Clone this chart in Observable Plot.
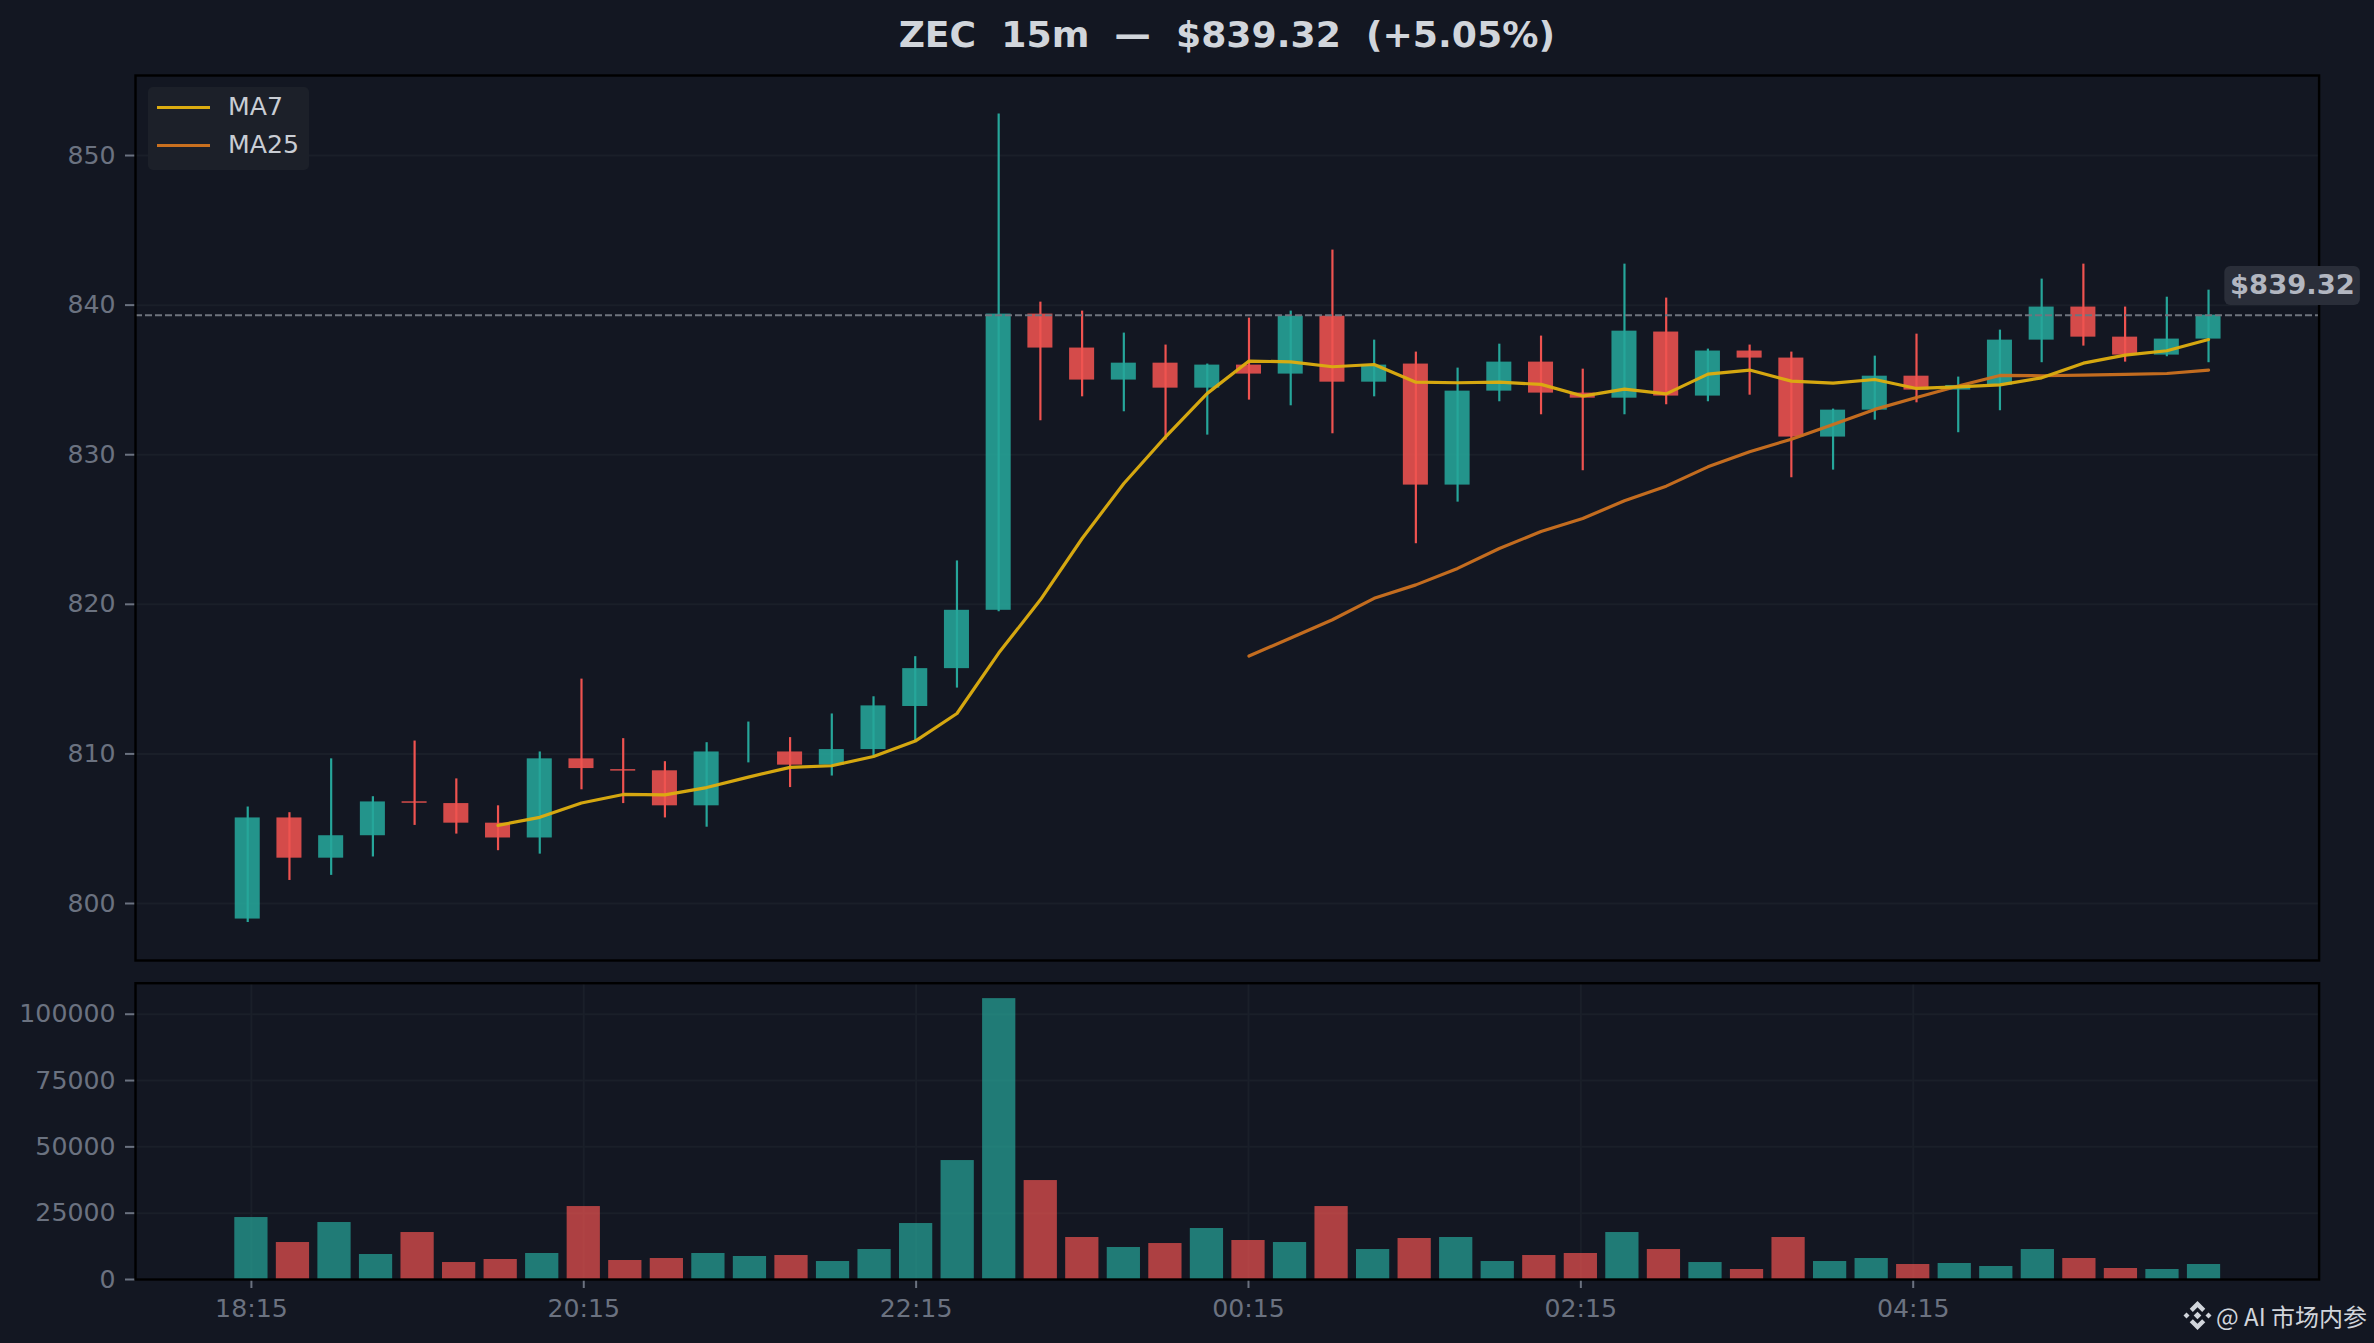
<!DOCTYPE html>
<html>
<head>
<meta charset="utf-8">
<script src="https://cdn.jsdelivr.net/npm/d3@7"></script>
<script src="https://cdn.jsdelivr.net/npm/@observablehq/plot@0.6"></script>
<style>
html,body{margin:0;padding:0;background:#131722;width:2374px;height:1343px;overflow:hidden;font-family:"DejaVu Sans",sans-serif}
#title{position:absolute;left:135px;width:2183.6px;top:14px;text-align:center;font-weight:bold;font-size:36.2px;line-height:42px;color:#d1d5db;white-space:pre}
.panel{position:absolute;left:0}
#legend{position:absolute;left:148px;top:87px;width:161px;height:83px;background:#1c2029;border-radius:5px}
.sw{position:absolute;left:9px;width:53px;height:3px}
.lt{position:absolute;left:80px;font-size:25.2px;line-height:30px;color:#c9cdd4}
#mark{position:absolute;left:2183px;top:1299px;height:32px;display:flex;align-items:center;color:#d1d5db;font-family:"Noto Sans CJK SC","Noto Sans",sans-serif;font-size:24px;white-space:pre}
#mark svg{margin-right:4px}
</style>
</head>
<body>
<div id="title">ZEC  15m  —  $839.32  (+5.05%)</div>
<div id="top" class="panel" style="top:0"></div>
<div id="bot" class="panel" style="top:970px"></div>
<div id="legend">
  <div class="sw" style="top:19px;background:#dcac10"></div><div class="lt" style="top:5px">MA7</div>
  <div class="sw" style="top:57px;background:#c9701f"></div><div class="lt" style="top:43px">MA25</div>
</div>
<div id="mark"><svg width="29" height="29" viewBox="0 0 28 28"><g fill="#d1d5db"><path d="M14 0l7.500 7.500-3 3L14 6l-4.500 4.500-3-3z"/><path d="M14 28l7.500-7.500-3-3L14 22l-4.500-4.500-3 3z"/><path d="M0.500 14l2.900-2.900L6.300 14l-2.900 2.900z"/><path d="M27.500 14l-2.900-2.900L21.700 14l2.900 2.900z"/><path d="M14 10.300l3.700 3.700-3.700 3.700-3.700-3.700z"/></g></svg>@ AI 市场内参</div>
<script>
const openP  = [798.96,805.72,803.03,804.53,806.80,806.68,805.37,804.38,809.67,808.95,808.87,806.53,810.90,810.13,809.25,810.29,813.17,815.70,819.60,839.40,837.13,834.99,836.12,834.45,835.99,835.39,839.26,834.85,836.06,827.97,834.25,836.19,834.12,833.78,838.20,833.92,836.93,836.46,831.18,832.98,835.25,834.32,834.65,837.66,839.87,837.86,836.66,837.73];
const closeP = [805.72,803.03,804.53,806.79,806.70,805.37,804.38,809.67,809.02,808.85,806.53,810.13,810.90,809.25,810.29,813.21,815.70,819.60,839.40,837.13,834.99,836.12,834.45,835.99,835.39,839.26,834.85,835.99,827.97,834.25,836.19,834.12,833.78,838.26,833.92,836.93,836.46,831.18,832.98,835.25,834.32,834.63,837.66,839.87,837.86,836.66,837.73,839.33];
const highP  = [806.45,806.07,809.67,807.14,810.86,808.33,806.53,810.13,815.00,811.02,809.48,810.75,812.13,811.09,812.67,813.82,816.50,822.90,852.77,840.20,839.60,838.13,837.33,836.06,839.13,839.60,843.68,837.66,836.86,835.79,837.39,837.93,835.72,842.74,840.47,837.06,837.33,836.86,833.05,836.59,838.06,835.19,838.33,841.74,842.74,839.87,840.53,841.00];
const lowP   = [798.73,801.54,801.88,803.11,805.22,804.64,803.53,803.30,807.60,806.68,805.72,805.10,809.40,807.75,808.52,809.83,810.80,814.40,819.50,832.27,833.87,832.87,830.98,831.31,833.65,833.27,831.40,833.87,824.05,826.83,833.54,832.67,828.93,832.67,833.34,833.54,833.98,828.46,828.97,832.31,833.47,831.47,832.94,836.15,837.26,836.19,836.55,836.15];
const volume = [23360,13940,21480,9420,17710,6400,7540,9800,27500,7160,7910,9800,8670,9040,6780,11300,21100,44840,105880,37300,15830,12060,13560,19220,14700,13940,27500,11300,15450,15830,6780,9040,9800,17710,11300,6400,3770,15830,6780,7910,5650,6030,4900,11300,7910,4150,3770,5650];
const ma7Start = 6;
const ma7 = [805.22,805.76,806.72,807.29,807.26,807.75,808.45,809.10,809.21,809.83,810.86,812.70,816.74,820.30,824.40,828.08,831.20,834.10,836.26,836.21,835.88,836.03,834.85,834.81,834.85,834.70,833.92,834.38,834.07,835.39,835.66,834.92,834.79,835.03,834.43,834.54,834.67,835.14,836.12,836.66,836.95,837.70];
const ma25Start = 24;
const ma25 = [816.54,817.75,818.97,820.40,821.30,822.40,823.73,824.87,825.74,826.92,827.90,829.19,830.20,831.04,832.02,833.03,833.83,834.59,835.30,835.28,835.32,835.37,835.43,835.66];
const tickIndex = [0,8,16,24,32,40];
const tickLabels = ["18:15","20:15","22:15","00:15","02:15","04:15"];
const priceTicks = [800,810,820,830,840,850];
const volumeTicks = [0,25000,50000,75000,100000];
const lastPrice = 839.32;
const priceTag = "$839.32";

const GRID="#1a1f29", UP="#26a69a", DOWN="#ef5350", TICK="#6b7280";
const candles = openP.map((o,i)=>({i,o,c:closeP[i],h:highP[i],l:lowP[i],v:volume[i],up:closeP[i]>=o}));
const col = d=>d.up?UP:DOWN;
const ma7Data = ma7.map((y,k)=>({i:k+ma7Start,y}));
const ma25Data = ma25.map((y,k)=>({i:k+ma25Start,y}));
const tag = {x1:47.39,x2:50.64,y1:839.97,y2:842.58,tx:49.01,ty:841.34};
const axisStyle={fontSize:25.2,color:"#6b7280",tickSize:10,tickPadding:10,strokeWidth:2};

const topPlot = Plot.plot({
  width:2374,height:970,marginLeft:135,marginRight:55.4,marginTop:75,marginBottom:10,
  style:{background:"transparent",fontFamily:"DejaVu Sans",overflow:"visible"},
  x:{domain:[-2.69,49.65],axis:null},
  y:{domain:[796.19,855.35]},
  marks:[
    Plot.gridY(priceTicks,{stroke:GRID,strokeOpacity:1,strokeWidth:2}),
    Plot.axisY(priceTicks,{...axisStyle,stroke:TICK,tickFormat:d=>String(d),label:null,fill:"#6b7280"}),
    Plot.ruleX(candles,{x:"i",y1:"l",y2:"h",stroke:col,strokeWidth:2.2}),
    Plot.rect(candles,{x1:d=>d.i-0.3,x2:d=>d.i+0.3,y1:"o",y2:"c",fill:col,fillOpacity:0.88}),
    Plot.ruleY([lastPrice],{stroke:"#6f747e",strokeWidth:2,strokeDasharray:"7,3"}),
    Plot.line(ma25Data,{x:"i",y:"y",stroke:"#c9701f",strokeWidth:3.2,strokeOpacity:0.97}),
    Plot.line(ma7Data,{x:"i",y:"y",stroke:"#dcac10",strokeWidth:3.2,strokeOpacity:0.97}),
    Plot.frame({stroke:"#000",strokeWidth:2.4}),
    Plot.rect([tag],{x1:"x1",x2:"x2",y1:"y1",y2:"y2",fill:"#2a2e39",rx:6}),
    Plot.text([tag],{x:"tx",y:"ty",text:()=>priceTag,fill:"#b2b6c0",fontWeight:"bold",fontSize:27.4,textAnchor:"middle"})
  ]
});
document.getElementById("top").appendChild(topPlot);

const botPlot = Plot.plot({
  width:2374,height:373,marginLeft:135,marginRight:55.4,marginTop:12.7,marginBottom:64,
  style:{background:"transparent",fontFamily:"DejaVu Sans",overflow:"visible"},
  x:{domain:[-2.79,49.77]},
  y:{domain:[0,111700]},
  marks:[
    Plot.gridY(volumeTicks,{stroke:GRID,strokeOpacity:1,strokeWidth:2}),
    Plot.gridX(tickIndex,{stroke:GRID,strokeOpacity:1,strokeWidth:2}),
    Plot.axisY(volumeTicks,{...axisStyle,stroke:TICK,tickFormat:d=>String(d),label:null,fill:"#6b7280"}),
    Plot.axisX(tickIndex,{...axisStyle,tickSize:9,tickPadding:11,stroke:TICK,tickFormat:d=>tickLabels[tickIndex.indexOf(d)],label:null,fill:"#6b7280"}),
    Plot.rect(candles,{x1:d=>d.i-0.4,x2:d=>d.i+0.4,y1:0,y2:"v",fill:col,fillOpacity:0.7}),
    Plot.frame({stroke:"#000",strokeWidth:2.4})
  ]
});
document.getElementById("bot").appendChild(botPlot);
</script>
</body>
</html>
